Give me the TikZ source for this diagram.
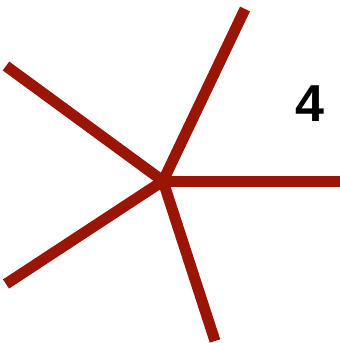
\documentclass[tikz,border=0pt]{standalone}
\usepackage{fontspec}
\setmainfont{Liberation Sans}
\definecolor{spoke}{HTML}{9A1505}
\begin{document}
\begin{tikzpicture}[x=1pt,y=-1pt,
  spokeline/.style={draw=spoke,line width=11pt,line cap=butt}]
\useasboundingbox (0,0) rectangle (340,343);
\coordinate (c) at (163,181);
\coordinate (p1) at (245,9);
\coordinate (p2) at (340,181);
\coordinate (p3) at (215,341);
\coordinate (p4) at (6,284);
\coordinate (p5) at (6,66);
\foreach \p in {p1,p2,p3,p4,p5} \draw[spokeline] (c) -- (\p);
\node[font=\fontsize{52}{52}\selectfont\bfseries,inner sep=0] (lab) at (310,104) {4};
\end{tikzpicture}
\end{document}
